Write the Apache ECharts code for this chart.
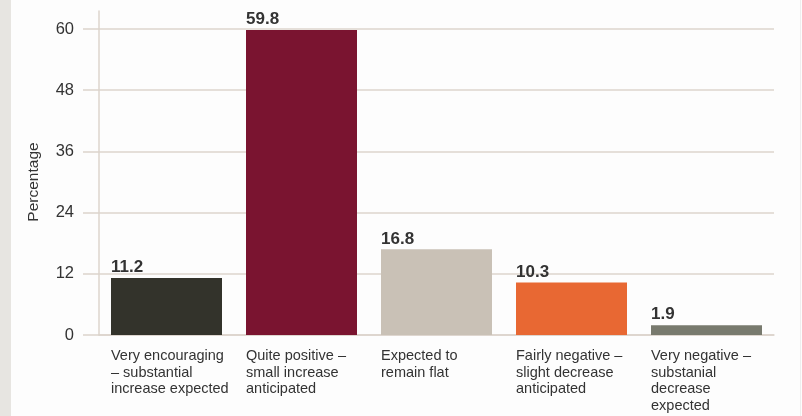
<!DOCTYPE html>
<html>
<head>
<meta charset="utf-8">
<script src="https://cdn.jsdelivr.net/npm/echarts@6/dist/echarts.min.js"></script>
<style>
html,body{margin:0;padding:0;background:#fdfdfd;}
#wrap{position:relative;width:802px;height:416px;}
#left{position:absolute;left:0;top:0;width:11px;height:416px;background:#e7e5e1;}
#right{position:absolute;right:1px;top:0;width:1px;height:416px;background:#eeeeee;}
#c{position:absolute;left:0;top:0;width:802px;height:416px;}
</style>
</head>
<body>
<div id="wrap"><div id="left"></div><div id="right"></div><div id="c"></div></div>
<script>
const categories = [
  ['Very encouraging', '– substantial', 'increase expected'],
  ['Quite positive –', 'small increase', 'anticipated'],
  ['Expected to', 'remain flat'],
  ['Fairly negative –', 'slight decrease', 'anticipated'],
  ['Very negative –', 'substanial', 'decrease', 'expected']
];
const values = [11.2, 59.8, 16.8, 10.3, 1.9];
const colors = ['#33332b', '#7a1430', '#c9c1b6', '#e86833', '#787a6e'];
const yTicks = [0, 12, 24, 36, 48, 60];

const chart = echarts.init(document.getElementById('c'));
const font = 'Liberation Sans, Arial, sans-serif';
const gridColor = '#dcd4cc';
chart.setOption({
  animation: false,
  grid: [
    {left: 99, right: 28, top: 29, bottom: 81},
    {left: 99, right: 28, top: 11, bottom: 81}
  ],
  xAxis: [{
    type: 'category',
    gridIndex: 0,
    data: categories.map(c => c.join('\n')),
    axisLine: {show: true, lineStyle: {color: gridColor, width: 1.5}},
    axisTick: {show: false},
    axisLabel: {
      interval: 0,
      margin: 13,
      fontFamily: font,
      fontSize: 14.5,
      color: '#333333',
      lineHeight: 16.5,
      formatter: v => v.split('\n').map(l => '{a|' + l + '}').join('\n'),
      rich: {a: {width: 111, align: 'left', fontFamily: font, fontSize: 14.5, color: '#333333', lineHeight: 16.5}}
    }
  }, {
    type: 'category', gridIndex: 1, data: categories.map((c, i) => i), show: false
  }],
  yAxis: [{
    type: 'value',
    gridIndex: 0,
    min: yTicks[0],
    max: yTicks[yTicks.length - 1],
    interval: 12,
    name: 'Percentage',
    nameLocation: 'middle',
    nameGap: 57,
    nameTextStyle: {fontFamily: font, fontSize: 15.5, color: '#333333'},
    axisLine: {show: false},
    axisTick: {show: true, length: 16, lineStyle: {color: gridColor, width: 1.5}},
    axisLabel: {margin: 25, fontFamily: font, fontSize: 16.5, color: '#333333'},
    splitLine: {show: true, lineStyle: {color: gridColor, width: 1.5}}
  }, {
    type: 'value',
    gridIndex: 1,
    min: 0, max: 1,
    axisLine: {show: true, lineStyle: {color: gridColor, width: 1.5}},
    axisTick: {show: false},
    axisLabel: {show: false},
    splitLine: {show: false}
  }],
  series: [{
    type: 'bar',
    xAxisIndex: 0,
    yAxisIndex: 0,
    data: values.map((v, i) => ({value: v, itemStyle: {color: colors[i]}})),
    barWidth: 111,
    label: {
      show: true,
      position: [0, -2],
      verticalAlign: 'bottom',
      align: 'left',
      fontFamily: font,
      fontSize: 17,
      fontWeight: 'bold',
      color: '#333333'
    }
  }]
});
</script>
</body>
</html>
